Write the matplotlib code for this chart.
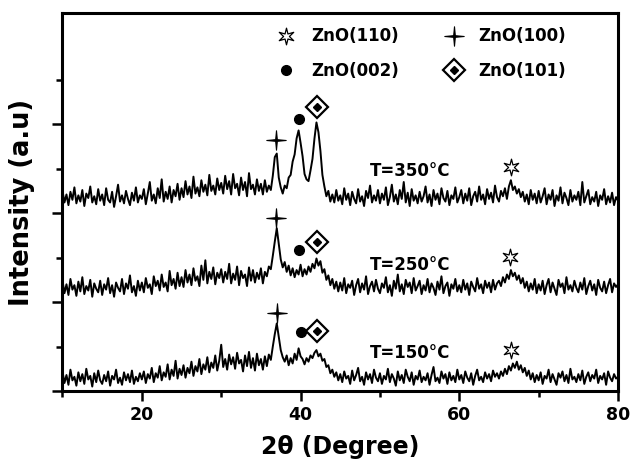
"""XRD patterns of ZnO films at three annealing temperatures."""
import matplotlib
matplotlib.use("Agg")
import matplotlib.pyplot as plt
import numpy as np
from matplotlib.lines import Line2D
from matplotlib.path import Path

# 2-theta scan grid (deg)
two_theta = np.arange(10, 80.001, 0.25)

# intensities (x0.01 a.u., offset per trace)
t350 = [
    225, 212, 221, 209, 224, 215, 229, 211, 220, 213, 226, 208, 222, 217, 230, 212, 219, 210, 227, 214,
    221, 209, 228, 215, 212, 224, 207, 219, 232, 213, 220, 211, 225, 216, 209, 223, 214, 229, 212, 220,
    216, 227, 210, 222, 235, 214, 221, 211, 228, 217, 238, 213, 224, 216, 230, 212, 226, 219, 233, 215,
    228, 218, 236, 221, 230, 217, 241, 222, 229, 219, 237, 224, 232, 220, 243, 225, 231, 221, 239, 226,
    234, 222, 242, 227, 236, 221, 244, 228, 233, 220, 240, 226, 235, 219, 245, 227, 232, 221, 238, 225,
    233, 221, 237, 224, 231, 226, 242, 263, 267, 240, 229, 222, 231, 228, 240, 243, 258, 266, 284, 293,
    279, 264, 244, 238, 236, 248, 261, 284, 302, 291, 270, 243, 230, 219, 225, 213, 221, 212, 226, 214,
    220, 210, 228, 215, 222, 209, 224, 216, 211, 227, 213, 219, 208, 225, 217, 231, 212, 220, 214, 226,
    211, 222, 215, 229, 209, 218, 232, 213, 221, 210, 226, 216, 235, 212, 223, 208, 227, 214, 220, 211,
    224, 213, 219, 230, 212, 221, 208, 226, 215, 222, 210, 228, 217, 213, 225, 209, 220, 216, 229, 212,
    218, 226, 211, 222, 214, 228, 209, 219, 224, 213, 230, 215, 221, 210, 227, 216, 223, 212, 231, 218,
    213, 225, 219, 228, 216, 230, 237, 226, 230, 222, 227, 218, 224, 213, 221, 210, 226, 215, 222, 211,
    225, 212, 219, 228, 210, 221, 215, 226, 208, 220, 214, 229, 211, 223, 217, 209, 226, 213, 220, 215,
    224, 209, 235, 212, 219, 226, 210, 218, 213, 224, 208, 220, 215, 227, 210, 219, 212, 223, 209, 218,
    214,
]
t250 = [
    124, 110, 120, 108, 126, 114, 119, 107, 123, 112, 128, 109, 118, 113, 125, 106, 121, 115, 111, 124,
    108, 120, 114, 127, 110, 119, 106, 122, 116, 112, 126, 109, 121, 115, 130, 111, 118, 107, 124, 113,
    122, 111, 127, 116, 120, 109, 129, 118, 124, 113, 131, 117, 122, 112, 135, 119, 126, 115, 133, 118,
    128, 117, 136, 122, 131, 119, 138, 124, 129, 118, 141, 125, 147, 121, 134, 126, 139, 120, 133, 127,
    137, 122, 134, 126, 143, 121, 132, 125, 140, 119, 135, 127, 131, 118, 139, 124, 136, 122, 133, 126,
    138, 121, 134, 129, 140, 137, 152, 168, 183, 165, 148, 139, 145, 134, 141, 130, 138, 128, 136, 131,
    142, 129, 137, 131, 140, 134, 143, 138, 149, 141, 146, 133, 137, 125, 130, 119, 126, 115, 123, 112,
    122, 113, 127, 110, 120, 116, 124, 108, 119, 126, 111, 121, 114, 129, 109, 118, 123, 112, 125, 115,
    110, 121, 116, 128, 111, 119, 107, 124, 115, 131, 112, 120, 109, 125, 117, 122, 110, 127, 113, 118,
    124, 109, 119, 113, 126, 111, 121, 116, 108, 123, 114, 129, 110, 118, 122, 107, 120, 115, 126, 112,
    119, 111, 125, 114, 121, 108, 123, 117, 112, 127, 115, 120, 110, 124, 116, 122, 111, 125, 114, 121,
    124, 118, 128, 122, 131, 126, 136, 129, 133, 125, 130, 121, 127, 116, 123, 112, 121, 114, 126, 110,
    120, 113, 124, 109, 119, 126, 111, 122, 115, 108, 125, 117, 121, 110, 128, 114, 119, 112, 124, 116,
    111, 122, 114, 127, 109, 118, 124, 113, 120, 108, 125, 116, 112, 123, 110, 119, 126, 111, 121, 117,
    120,
]
t150 = [
    22, 9, 18, 7, 24, 12, 16, 6, 21, 11, 19, 8, 25, 13, 17, 5, 20, 10, 23, 12,
    8, 18, 11, 22, 6, 17, 13, 24, 9, 15, 7, 21, 12, 19, 10, 23, 8, 16, 11, 20,
    13, 22, 9, 19, 14, 26, 10, 20, 15, 28, 12, 21, 16, 30, 13, 24, 17, 34, 14, 25,
    18, 29, 15, 26, 20, 33, 17, 28, 22, 36, 19, 30, 24, 38, 21, 32, 26, 40, 23, 34,
    52, 27, 36, 24, 41, 30, 38, 25, 43, 31, 35, 22, 40, 28, 44, 26, 37, 23, 42, 29,
    36, 24, 39, 28, 41, 35, 50, 64, 76, 61, 46, 38, 33, 40, 29, 37, 31, 42, 35, 48,
    39, 36, 30, 37, 33, 40, 37, 43, 46, 39, 42, 34, 36, 27, 29, 20, 24, 16, 21, 12,
    19, 10, 22, 14, 17, 8, 23, 12, 18, 26, 11, 16, 7, 21, 13, 19, 9, 24, 15, 11,
    20, 8, 17, 13, 25, 10, 19, 14, 6, 22, 12, 18, 9, 24, 16, 11, 21, 7, 17, 13,
    23, 10, 16, 12, 20, 7, 18, 27, 11, 15, 9, 22, 14, 19, 8, 21, 12, 17, 10, 24,
    13, 18, 9, 22, 15, 11, 20, 7, 17, 24, 12, 16, 10, 21, 14, 19, 11, 23, 16, 20,
    14, 22, 17, 25, 19, 28, 23, 31, 26, 33, 24, 29, 21, 26, 17, 23, 13, 20, 10, 18,
    12, 21, 8, 17, 14, 24, 10, 19, 13, 7, 20, 15, 22, 11, 18, 9, 25, 13, 16, 10,
    19, 12, 23, 8, 16, 21, 11, 18, 14, 24, 9, 17, 13, 20, 7, 22, 15, 11, 19, 14,
    16,
]

temp_labels = ["T=350°C", "T=250°C", "T=150°C"]
label_y = [2.47, 1.42, 0.43]

# peak marker positions (top, middle, bottom trace)
p100_x, p100_y = [36.9, 36.9, 37.0], [2.82, 1.94, 0.88]
p002_x, p002_y = [39.75, 39.75, 40.0], [3.06, 1.58, 0.66]
p101_x, p101_y = [42.1, 42.1, 42.1], [3.19, 1.67, 0.67]
p110_x, p110_y = [66.5, 66.4, 66.5], [2.52, 1.51, 0.46]

assert len(t350) == len(t250) == len(t150) == len(two_theta)

plt.rcParams.update({
    "font.family": "DejaVu Sans",
    "font.weight": "bold",
    "axes.labelweight": "bold",
    "axes.linewidth": 2.2,
})

STAR6 = Path.unit_regular_star(6, 0.35)
CROSS4 = Path.unit_regular_star(4, 0.12)

fig = plt.figure(figsize=(6.3, 4.67), dpi=100)
ax = fig.add_axes([0.0992, 0.1627, 0.8818, 0.8094])

for ys in (t350, t250, t150):
    ax.plot(two_theta, np.array(ys) / 100.0, color="black", lw=1.4)

mk = dict(ls="none", color="black")
ax.plot(p100_x, p100_y, marker=CROSS4, ms=14, mfc="black", mec="black", mew=0.8, **mk)
ax.plot(p002_x, p002_y, marker="o", ms=7, **mk)
ax.plot(p101_x, p101_y, marker="D", ms=11, mfc="white", mec="black", mew=1.6, **mk)
ax.plot(p101_x, p101_y, marker="D", ms=4, **mk)
ax.plot(p110_x, p110_y, marker=STAR6, ms=12, mfc="white", mec="black", mew=0.9, **mk)

for lab, y in zip(temp_labels, label_y):
    ax.text(48.7, y, lab, fontsize=12, fontweight="bold", va="center", ha="left")

# legend
h110 = Line2D([], [], marker=STAR6, ms=12, mfc="white", mec="black", mew=0.9, ls="none")
h002 = Line2D([], [], marker="o", ms=7, color="black", ls="none")
h100 = Line2D([], [], marker=CROSS4, ms=14, mfc="black", mec="black", mew=0.8, ls="none")
h101 = (Line2D([], [], marker="D", ms=11, mfc="white", mec="black", mew=1.6, ls="none"),
        Line2D([], [], marker="D", ms=4, color="black", ls="none"))
ax.legend([h110, h002, h100, h101], ["ZnO(110)", "ZnO(002)", "ZnO(100)", "ZnO(101)"],
          ncol=2, loc="upper left", bbox_to_anchor=(0.387, 0.962), frameon=False,
          fontsize=12, handlelength=1.0, handletextpad=1.0, columnspacing=2.8,
          labelspacing=1.0, borderpad=0, borderaxespad=0)

ax.set_xlim(10, 80)
ax.set_ylim(0, 4.25)
ax.set_xticks([20, 40, 60, 80])
ax.set_xticks([10, 30, 50, 70], minor=True)
ax.set_yticks([0, 1, 2, 3])
ax.set_yticks([0.5, 1.5, 2.5, 3.5], minor=True)
ax.set_yticklabels([])
ax.tick_params(which="major", direction="out", length=7, width=1.8, labelsize=12.5)
ax.tick_params(which="minor", direction="out", length=4, width=1.8)
ax.set_xlabel("2θ (Degree)", fontsize=17, fontweight="bold", labelpad=8)
ax.set_ylabel("Intensity (a.u)", fontsize=18.5, fontweight="bold", labelpad=9)

fig.savefig("out.png", dpi=100)
